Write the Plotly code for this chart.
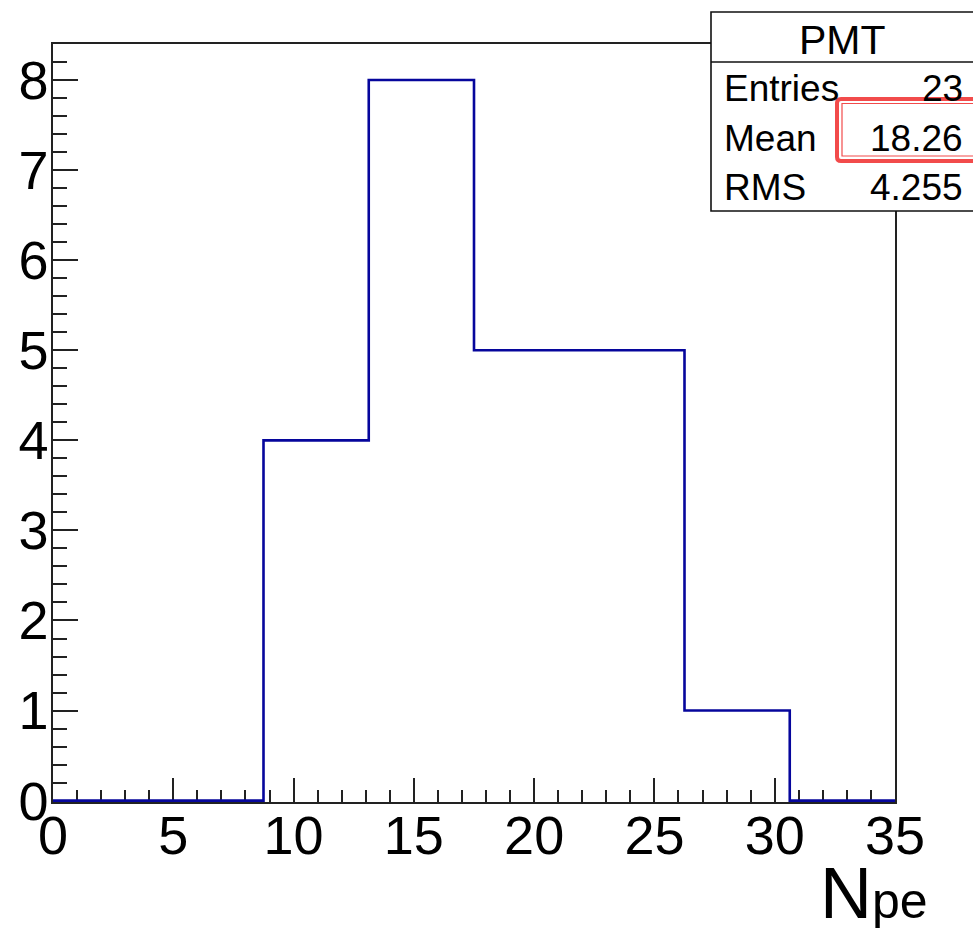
import plotly.graph_objects as go

# Histogram of photo-electron counts (8 equal bins over 0..35)
bin_edges = [0, 4.375, 8.75, 13.125, 17.5, 21.875, 26.25, 30.625, 35]
counts = [0, 0, 4, 8, 5, 5, 1, 0]

# Statistics box contents
stats_title = "PMT"
stats_labels = ["Entries", "Mean", "RMS"]
stats_values = ["23", "18.26", "4.255"]

x_ticks = [0, 5, 10, 15, 20, 25, 30, 35]
y_ticks = [0, 1, 2, 3, 4, 5, 6, 7, 8]

W, H = 973, 937
L, R, T, B = 53, 895, 44, 802  # plot frame in pixels

def px(x):
    return (x - L) / (R - L)

def py(y):
    return (B - y) / (B - T)

FONT = "Liberation Sans, Arial, Helvetica, sans-serif"
LINE_BLUE = "#06069c"
RED = "#f24b4b"

fig = go.Figure()
fig.add_trace(go.Scatter(
    x=bin_edges,
    y=counts + [counts[-1]],
    mode="lines",
    line=dict(shape="hv", color=LINE_BLUE, width=2.6),
    hoverinfo="skip",
    showlegend=False,
))

axis_common = dict(
    showgrid=False,
    zeroline=False,
    showline=True,
    linecolor="#222222",
    linewidth=1.5,
    mirror=True,
    ticks="inside",
    tickcolor="#222222",
    tickwidth=1.5,
    tickfont=dict(family=FONT, size=54, color="#000000"),
    layer="below traces",
)

fig.update_xaxes(
    range=[0, 35],
    tickvals=x_ticks,
    ticktext=[str(v) for v in x_ticks],
    ticklen=24,
    ticklabelstandoff=-15,
    minor=dict(dtick=1, ticklen=12, tickcolor="#222222", tickwidth=1.5, ticks="inside"),
    **axis_common,
)
fig.update_yaxes(
    range=[-0.015, 8.4],
    tickvals=y_ticks,
    ticktext=[str(v) for v in y_ticks],
    ticklen=25,
    ticklabelstandoff=-8,
    minor=dict(dtick=0.2, ticklen=14, tickcolor="#222222", tickwidth=1.5, ticks="inside"),
    **axis_common,
)

shapes = []
annotations = []

# stats box
bx0, by0, bx1, by1 = 711, 12, 990, 211
shapes.append(dict(type="rect", xref="paper", yref="paper",
                   x0=px(bx0), x1=px(bx1), y0=py(by1), y1=py(by0),
                   line=dict(color="#111111", width=1.6), fillcolor="white", layer="above"))
shapes.append(dict(type="line", xref="paper", yref="paper",
                   x0=px(bx0), x1=px(bx1), y0=py(62), y1=py(62),
                   line=dict(color="#111111", width=1.4), layer="above"))

annotations.append(dict(xref="paper", yref="paper", x=px(842), y=py(40),
                        text=stats_title, showarrow=False, xanchor="center", yanchor="middle",
                        font=dict(family=FONT, size=41, color="#000")))
row_y = [88, 138, 187]
for lab, val, yy in zip(stats_labels, stats_values, row_y):
    annotations.append(dict(xref="paper", yref="paper", x=px(722), y=py(yy),
                            text=lab, showarrow=False, xanchor="left", yanchor="middle",
                            font=dict(family=FONT, size=37, color="#000")))
    annotations.append(dict(xref="paper", yref="paper", x=px(965), y=py(yy),
                            text=val, showarrow=False, xanchor="right", yanchor="middle",
                            font=dict(family=FONT, size=37, color="#000")))

# highlight around the mean value
def rounded_path(x0, y0, x1, y1, r):
    return (f"M {px(x0 + r)} {py(y0)} L {px(x1)} {py(y0)} "
            f"M {px(x1)} {py(y1)} L {px(x0 + r)} {py(y1)} "
            f"Q {px(x0)} {py(y1)} {px(x0)} {py(y1 - r)} "
            f"L {px(x0)} {py(y0 + r)} Q {px(x0)} {py(y0)} {px(x0 + r)} {py(y0)}")

shapes.append(dict(type="path", xref="paper", yref="paper",
                   path=rounded_path(837, 99, 985, 161, 4),
                   line=dict(color=RED, width=4), layer="above"))
shapes.append(dict(type="rect", xref="paper", yref="paper",
                   x0=px(842), x1=px(985), y0=py(156), y1=py(103.5),
                   line=dict(color=RED, width=1.2), layer="above"))

# x axis title
annotations.append(dict(xref="paper", yref="paper", x=px(930), y=py(893),
                        text="N<span style='font-size:50px'>pe</span>",
                        showarrow=False, xanchor="right", yanchor="middle",
                        font=dict(family=FONT, size=72, color="#000")))

fig.update_layout(
    width=W, height=H,
    margin=dict(l=L, r=W - R, t=T, b=H - B, pad=0),
    paper_bgcolor="white",
    plot_bgcolor="white",
    shapes=shapes,
    annotations=annotations,
    showlegend=False,
)

fig.write_html("out.html")
